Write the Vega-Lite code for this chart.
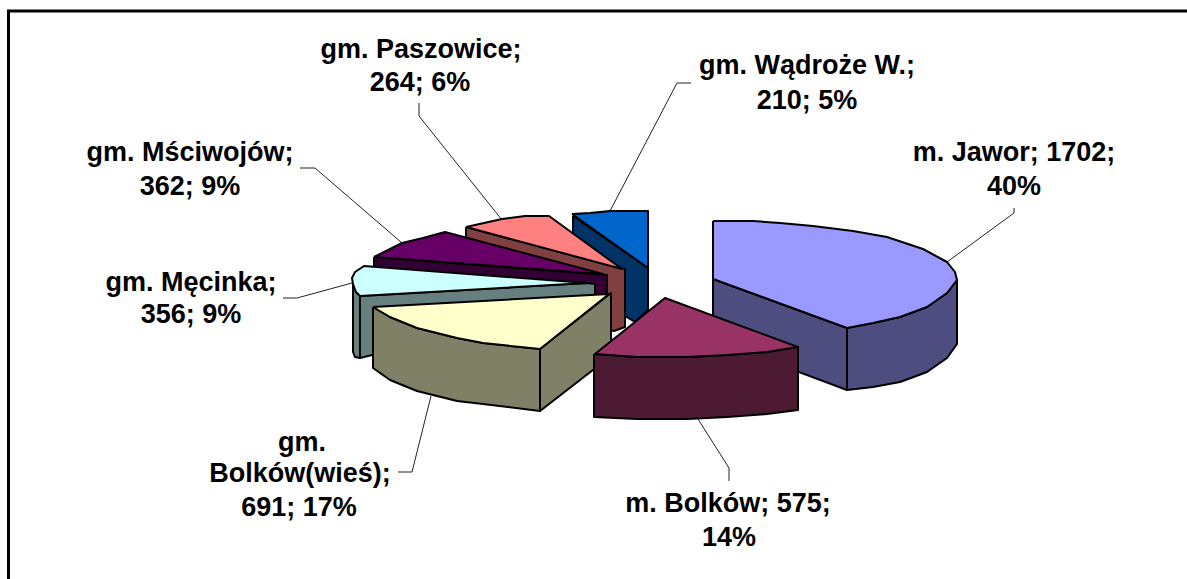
{"$schema":"https://vega.github.io/schema/vega-lite/v6.json","width":1187,"height":579,"autosize":"none","padding":0,"background":"white","view":{"stroke":null},
"datasets":{
"frame":[{"p":"frame","i":0,"x":8.5,"y":579},{"p":"frame","i":1,"x":8.5,"y":11},{"p":"frame","i":2,"x":1187,"y":11}],
"faces":[
{"p":"blue side","i":0,"x":573,"y":216},{"p":"blue side","i":1,"x":648,"y":268},{"p":"blue side","i":2,"x":648,"y":310},{"p":"blue side","i":3,"x":635,"y":322},{"p":"blue side","i":4,"x":625,"y":316},{"p":"blue side","i":5,"x":573,"y":279},{"p":"blue side","i":6,"x":573,"y":216},
{"p":"blue top","i":0,"x":572,"y":214},{"p":"blue top","i":1,"x":590,"y":213},{"p":"blue top","i":2,"x":610,"y":211},{"p":"blue top","i":3,"x":648,"y":211},{"p":"blue top","i":4,"x":648,"y":268},{"p":"blue top","i":5,"x":572,"y":214},
{"p":"pink side","i":0,"x":466,"y":227},{"p":"pink side","i":1,"x":625,"y":269},{"p":"pink side","i":2,"x":625,"y":327},{"p":"pink side","i":3,"x":614,"y":331},{"p":"pink side","i":4,"x":466,"y":290},{"p":"pink side","i":5,"x":466,"y":227},
{"p":"pink top","i":0,"x":466,"y":227},{"p":"pink top","i":1,"x":502,"y":219},{"p":"pink top","i":2,"x":525,"y":216},{"p":"pink top","i":3,"x":549,"y":216},{"p":"pink top","i":4,"x":622,"y":269},{"p":"pink top","i":5,"x":466,"y":227},
{"p":"purple side","i":0,"x":374,"y":257},{"p":"purple side","i":1,"x":607,"y":275},{"p":"purple side","i":2,"x":607,"y":296},{"p":"purple side","i":3,"x":590,"y":300},{"p":"purple side","i":4,"x":374,"y":280},{"p":"purple side","i":5,"x":374,"y":257},
{"p":"purple top","i":0,"x":374,"y":257},{"p":"purple top","i":1,"x":402,"y":243},{"p":"purple top","i":2,"x":423,"y":238},{"p":"purple top","i":3,"x":445,"y":232},{"p":"purple top","i":4,"x":603,"y":274},{"p":"purple top","i":5,"x":374,"y":257},
{"p":"cyan side","i":0,"x":353,"y":284},{"p":"cyan side","i":1,"x":356,"y":292},{"p":"cyan side","i":2,"x":360,"y":296},{"p":"cyan side","i":3,"x":587,"y":283},{"p":"cyan side","i":4,"x":595,"y":284},{"p":"cyan side","i":5,"x":595,"y":300},{"p":"cyan side","i":6,"x":360,"y":358},{"p":"cyan side","i":7,"x":355,"y":357},{"p":"cyan side","i":8,"x":353,"y":352},{"p":"cyan side","i":9,"x":353,"y":284},
{"p":"cyan divider","i":0,"x":360,"y":296},{"p":"cyan divider","i":1,"x":360,"y":358},{"p":"cyan divider","i":2,"x":360,"y":296},
{"p":"cyan top","i":0,"x":353,"y":284},{"p":"cyan top","i":1,"x":352,"y":278},{"p":"cyan top","i":2,"x":355,"y":272},{"p":"cyan top","i":3,"x":364,"y":266},{"p":"cyan top","i":4,"x":587,"y":283},{"p":"cyan top","i":5,"x":360,"y":296},{"p":"cyan top","i":6,"x":356,"y":292},{"p":"cyan top","i":7,"x":353,"y":284},
{"p":"olive side","i":0,"x":373,"y":307},{"p":"olive side","i":1,"x":390,"y":317},{"p":"olive side","i":2,"x":417,"y":328},{"p":"olive side","i":3,"x":457,"y":338},{"p":"olive side","i":4,"x":483,"y":343},{"p":"olive side","i":5,"x":540,"y":349},{"p":"olive side","i":6,"x":540,"y":411},{"p":"olive side","i":7,"x":483,"y":404},{"p":"olive side","i":8,"x":457,"y":401},{"p":"olive side","i":9,"x":417,"y":391},{"p":"olive side","i":10,"x":390,"y":380},{"p":"olive side","i":11,"x":373,"y":368},{"p":"olive side","i":12,"x":373,"y":307},
{"p":"olive side 2","i":0,"x":540,"y":349},{"p":"olive side 2","i":1,"x":611,"y":293},{"p":"olive side 2","i":2,"x":611,"y":356},{"p":"olive side 2","i":3,"x":540,"y":411},{"p":"olive side 2","i":4,"x":540,"y":349},
{"p":"olive top","i":0,"x":373,"y":307},{"p":"olive top","i":1,"x":609,"y":294},{"p":"olive top","i":2,"x":540,"y":349},{"p":"olive top","i":3,"x":483,"y":343},{"p":"olive top","i":4,"x":457,"y":338},{"p":"olive top","i":5,"x":417,"y":328},{"p":"olive top","i":6,"x":390,"y":317},{"p":"olive top","i":7,"x":373,"y":307},
{"p":"lilac side","i":0,"x":713,"y":279},{"p":"lilac side","i":1,"x":847,"y":328},{"p":"lilac side","i":2,"x":847,"y":390},{"p":"lilac side","i":3,"x":713,"y":340},{"p":"lilac side","i":4,"x":713,"y":279},
{"p":"lilac side 2","i":0,"x":847,"y":328},{"p":"lilac side 2","i":1,"x":873,"y":323},{"p":"lilac side 2","i":2,"x":900,"y":317},{"p":"lilac side 2","i":3,"x":927,"y":307},{"p":"lilac side 2","i":4,"x":947,"y":293},{"p":"lilac side 2","i":5,"x":957,"y":280},{"p":"lilac side 2","i":6,"x":957,"y":344},{"p":"lilac side 2","i":7,"x":947,"y":358},{"p":"lilac side 2","i":8,"x":927,"y":372},{"p":"lilac side 2","i":9,"x":900,"y":382},{"p":"lilac side 2","i":10,"x":873,"y":387},{"p":"lilac side 2","i":11,"x":847,"y":390},{"p":"lilac side 2","i":12,"x":847,"y":328},
{"p":"lilac top","i":0,"x":713,"y":221},{"p":"lilac top","i":1,"x":753,"y":221},{"p":"lilac top","i":2,"x":780,"y":223},{"p":"lilac top","i":3,"x":813,"y":226},{"p":"lilac top","i":4,"x":853,"y":231},{"p":"lilac top","i":5,"x":887,"y":237},{"p":"lilac top","i":6,"x":923,"y":249},{"p":"lilac top","i":7,"x":947,"y":262},{"p":"lilac top","i":8,"x":955,"y":272},{"p":"lilac top","i":9,"x":957,"y":280},{"p":"lilac top","i":10,"x":947,"y":293},{"p":"lilac top","i":11,"x":927,"y":307},{"p":"lilac top","i":12,"x":900,"y":317},{"p":"lilac top","i":13,"x":873,"y":323},{"p":"lilac top","i":14,"x":847,"y":328},{"p":"lilac top","i":15,"x":713,"y":279},{"p":"lilac top","i":16,"x":713,"y":221},
{"p":"maroon side","i":0,"x":594,"y":354},{"p":"maroon side","i":1,"x":637,"y":357},{"p":"maroon side","i":2,"x":687,"y":357},{"p":"maroon side","i":3,"x":727,"y":355},{"p":"maroon side","i":4,"x":767,"y":352},{"p":"maroon side","i":5,"x":798,"y":347},{"p":"maroon side","i":6,"x":798,"y":410},{"p":"maroon side","i":7,"x":767,"y":414},{"p":"maroon side","i":8,"x":727,"y":417},{"p":"maroon side","i":9,"x":687,"y":419},{"p":"maroon side","i":10,"x":637,"y":419},{"p":"maroon side","i":11,"x":594,"y":417},{"p":"maroon side","i":12,"x":594,"y":354},
{"p":"maroon top","i":0,"x":595,"y":354},{"p":"maroon top","i":1,"x":665,"y":298},{"p":"maroon top","i":2,"x":798,"y":347},{"p":"maroon top","i":3,"x":767,"y":352},{"p":"maroon top","i":4,"x":727,"y":355},{"p":"maroon top","i":5,"x":687,"y":357},{"p":"maroon top","i":6,"x":637,"y":357},{"p":"maroon top","i":7,"x":595,"y":354}
],
"leaders":[
{"p":"Jawor","i":0,"x":947,"y":262},{"p":"Jawor","i":1,"x":1014,"y":213},{"p":"Jawor","i":2,"x":1014,"y":208},
{"p":"Bolkow","i":0,"x":698,"y":419},{"p":"Bolkow","i":1,"x":729,"y":468},{"p":"Bolkow","i":2,"x":729,"y":481},
{"p":"Wies","i":0,"x":431,"y":396},{"p":"Wies","i":1,"x":412,"y":472},{"p":"Wies","i":2,"x":398,"y":472},
{"p":"Mecinka","i":0,"x":352,"y":283},{"p":"Mecinka","i":1,"x":297,"y":298},{"p":"Mecinka","i":2,"x":283,"y":298},
{"p":"Msciwojow","i":0,"x":300,"y":168},{"p":"Msciwojow","i":1,"x":315,"y":168},{"p":"Msciwojow","i":2,"x":402,"y":243},
{"p":"Paszowice","i":0,"x":419,"y":103},{"p":"Paszowice","i":1,"x":419,"y":116},{"p":"Paszowice","i":2,"x":502,"y":220},
{"p":"Wadroze","i":0,"x":691,"y":83},{"p":"Wadroze","i":1,"x":677,"y":83},{"p":"Wadroze","i":2,"x":610,"y":211}
],
"labels":[
{"t":"gm. Paszowice;","x":421,"y":50},{"t":"264; 6%","x":420,"y":83},
{"t":"gm. Wądroże W.;","x":807,"y":66},{"t":"210; 5%","x":807,"y":101},
{"t":"m. Jawor; 1702;","x":1014,"y":153},{"t":"40%","x":1014,"y":187},
{"t":"m. Bolków; 575;","x":728,"y":504},{"t":"14%","x":729,"y":538},
{"t":"gm.","x":302,"y":443},{"t":"Bolków(wieś);","x":300,"y":474},{"t":"691; 17%","x":299,"y":508},
{"t":"gm. Męcinka;","x":191,"y":283},{"t":"356; 9%","x":191,"y":315},
{"t":"gm. Mściwojów;","x":190,"y":153},{"t":"362; 9%","x":190,"y":187}
]},
"layer":[
{"data":{"name":"frame"},"mark":{"type":"line","stroke":"black","strokeWidth":3},"encoding":{"x":{"field":"x","type":"quantitative","scale":{"domain":[0,1187],"nice":false,"zero":false},"axis":null},"y":{"field":"y","type":"quantitative","scale":{"domain":[579,0],"nice":false,"zero":false},"axis":null},"detail":{"field":"p"},"order":{"field":"i"}}},
{"data":{"name":"leaders"},"mark":{"type":"line","stroke":"#222222","strokeWidth":1},"encoding":{"x":{"field":"x","type":"quantitative"},"y":{"field":"y","type":"quantitative"},"detail":{"field":"p"},"order":{"field":"i"}}},
{"data":{"name":"faces"},"mark":{"type":"line","stroke":"black","strokeWidth":2,"strokeJoin":"round"},"encoding":{"x":{"field":"x","type":"quantitative"},"y":{"field":"y","type":"quantitative"},"detail":{"field":"p"},"order":{"field":"i"},"fill":{"field":"p","type":"nominal","legend":null,"scale":{"domain":["blue side","blue top","pink side","pink top","purple side","purple top","cyan side","cyan divider","cyan top","olive side","olive side 2","olive top","lilac side","lilac side 2","lilac top","maroon side","maroon top"],"range":["#003366","#0066CC","#804040","#FF8080","#330033","#660066","#668080","#668080","#CCFFFF","#808066","#808066","#FFFFCC","#4D4D80","#4D4D80","#9999FF","#4D1A33","#993366"]}}}},
{"data":{"name":"labels"},"mark":{"type":"text","font":"Liberation Sans","fontWeight":"bold","fontSize":27,"align":"center","baseline":"middle","color":"black"},"encoding":{"x":{"field":"x","type":"quantitative"},"y":{"field":"y","type":"quantitative"},"text":{"field":"t"}}}
]}
